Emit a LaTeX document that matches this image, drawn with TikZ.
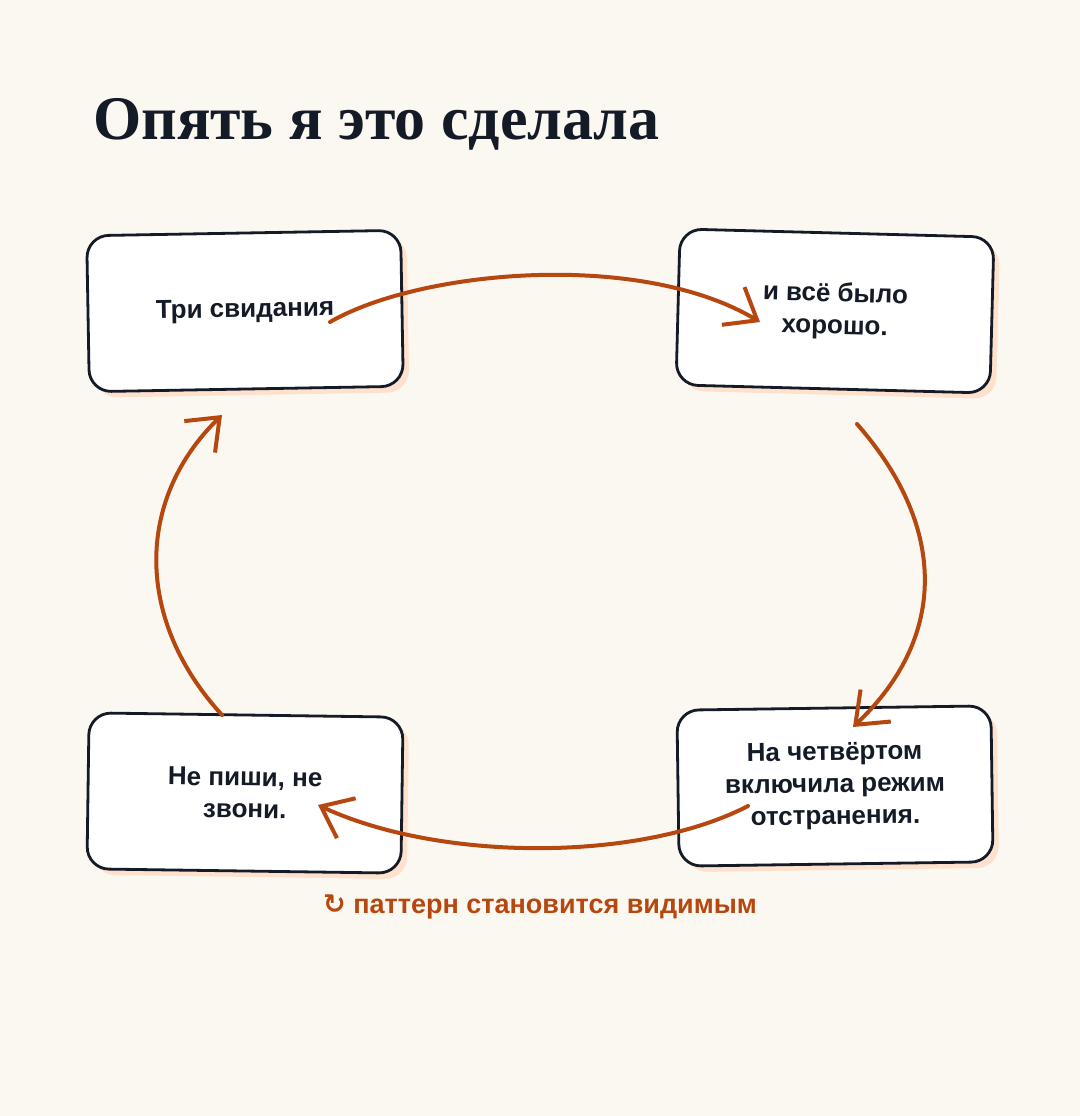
\documentclass[tikz,border=0pt]{standalone}
\usepackage{fontspec}
\setmainfont{Liberation Sans}
\newfontfamily\titlefont{Liberation Serif}
\newfontfamily\symfont{DejaVu Sans}
\usetikzlibrary{arrows.meta,shadows}
\definecolor{ink}{HTML}{141A26}
\definecolor{rust}{HTML}{B5470F}
\definecolor{paper}{HTML}{FBF8F2}
\definecolor{peach}{HTML}{FDE1CC}

\begin{document}
\begin{tikzpicture}[x=0.5pt,y=-0.5pt,
  card/.style={draw=ink, line width=1.4pt, fill=white, rounded corners=11pt,
    minimum width=157pt, minimum height=78pt, align=center,
    font=\fontsize{13}{16}\selectfont\bfseries, text=ink,
    drop shadow={shadow xshift=3pt, shadow yshift=-3pt, fill=peach, opacity=1}},
  loop/.style={draw=rust, line width=2pt, line cap=round,
    -{Straight Barb[length=14pt,width=22pt,line width=2pt]}}
  ]
  \fill[paper] (0,0) rectangle (1080,1116);
  \useasboundingbox (0,0) rectangle (1080,1116);

  \node[anchor=west, text=ink, font=\titlefont\fontsize{31}{36}\selectfont\bfseries]
    (title) at (86,124) {Опять я это сделала};

  % the four cards
  \node[card, rotate=1]    (dates) at (245,311) {Три свидания};
  \node[card, rotate=-1.5] (fine)  at (835,311) {и всё было\\хорошо.};
  \node[card, rotate=-0.8] (quiet) at (245,793) {Не пиши, не\\звони.};
  \node[card, rotate=0.8]  (away)  at (835,786) {На четвёртом\\включила режим\\отстранения.};

  % arrow ends
  \coordinate (a1) at (330,322); \coordinate (b1) at (760,322);
  \coordinate (a2) at (857,424); \coordinate (b2) at (853,727);
  \coordinate (a3) at (748,806); \coordinate (b3) at (318,805);
  \coordinate (a4) at (222,715); \coordinate (b4) at (222,415);

  \draw[loop] (a1) .. controls (420,270) and (640,250) .. (b1);
  \draw[loop] (a2) .. controls (950,530) and (945,640) .. (b2);
  \draw[loop] (a3) .. controls (640,862) and (440,862) .. (b3);
  \draw[loop] (a4) .. controls (135,620) and (135,500) .. (b4);

  \node[text=rust, font=\fontsize{13.5}{16}\selectfont\bfseries]
    (note) at (540,907) {{\symfont ↻} паттерн становится видимым};
\end{tikzpicture}
\end{document}
